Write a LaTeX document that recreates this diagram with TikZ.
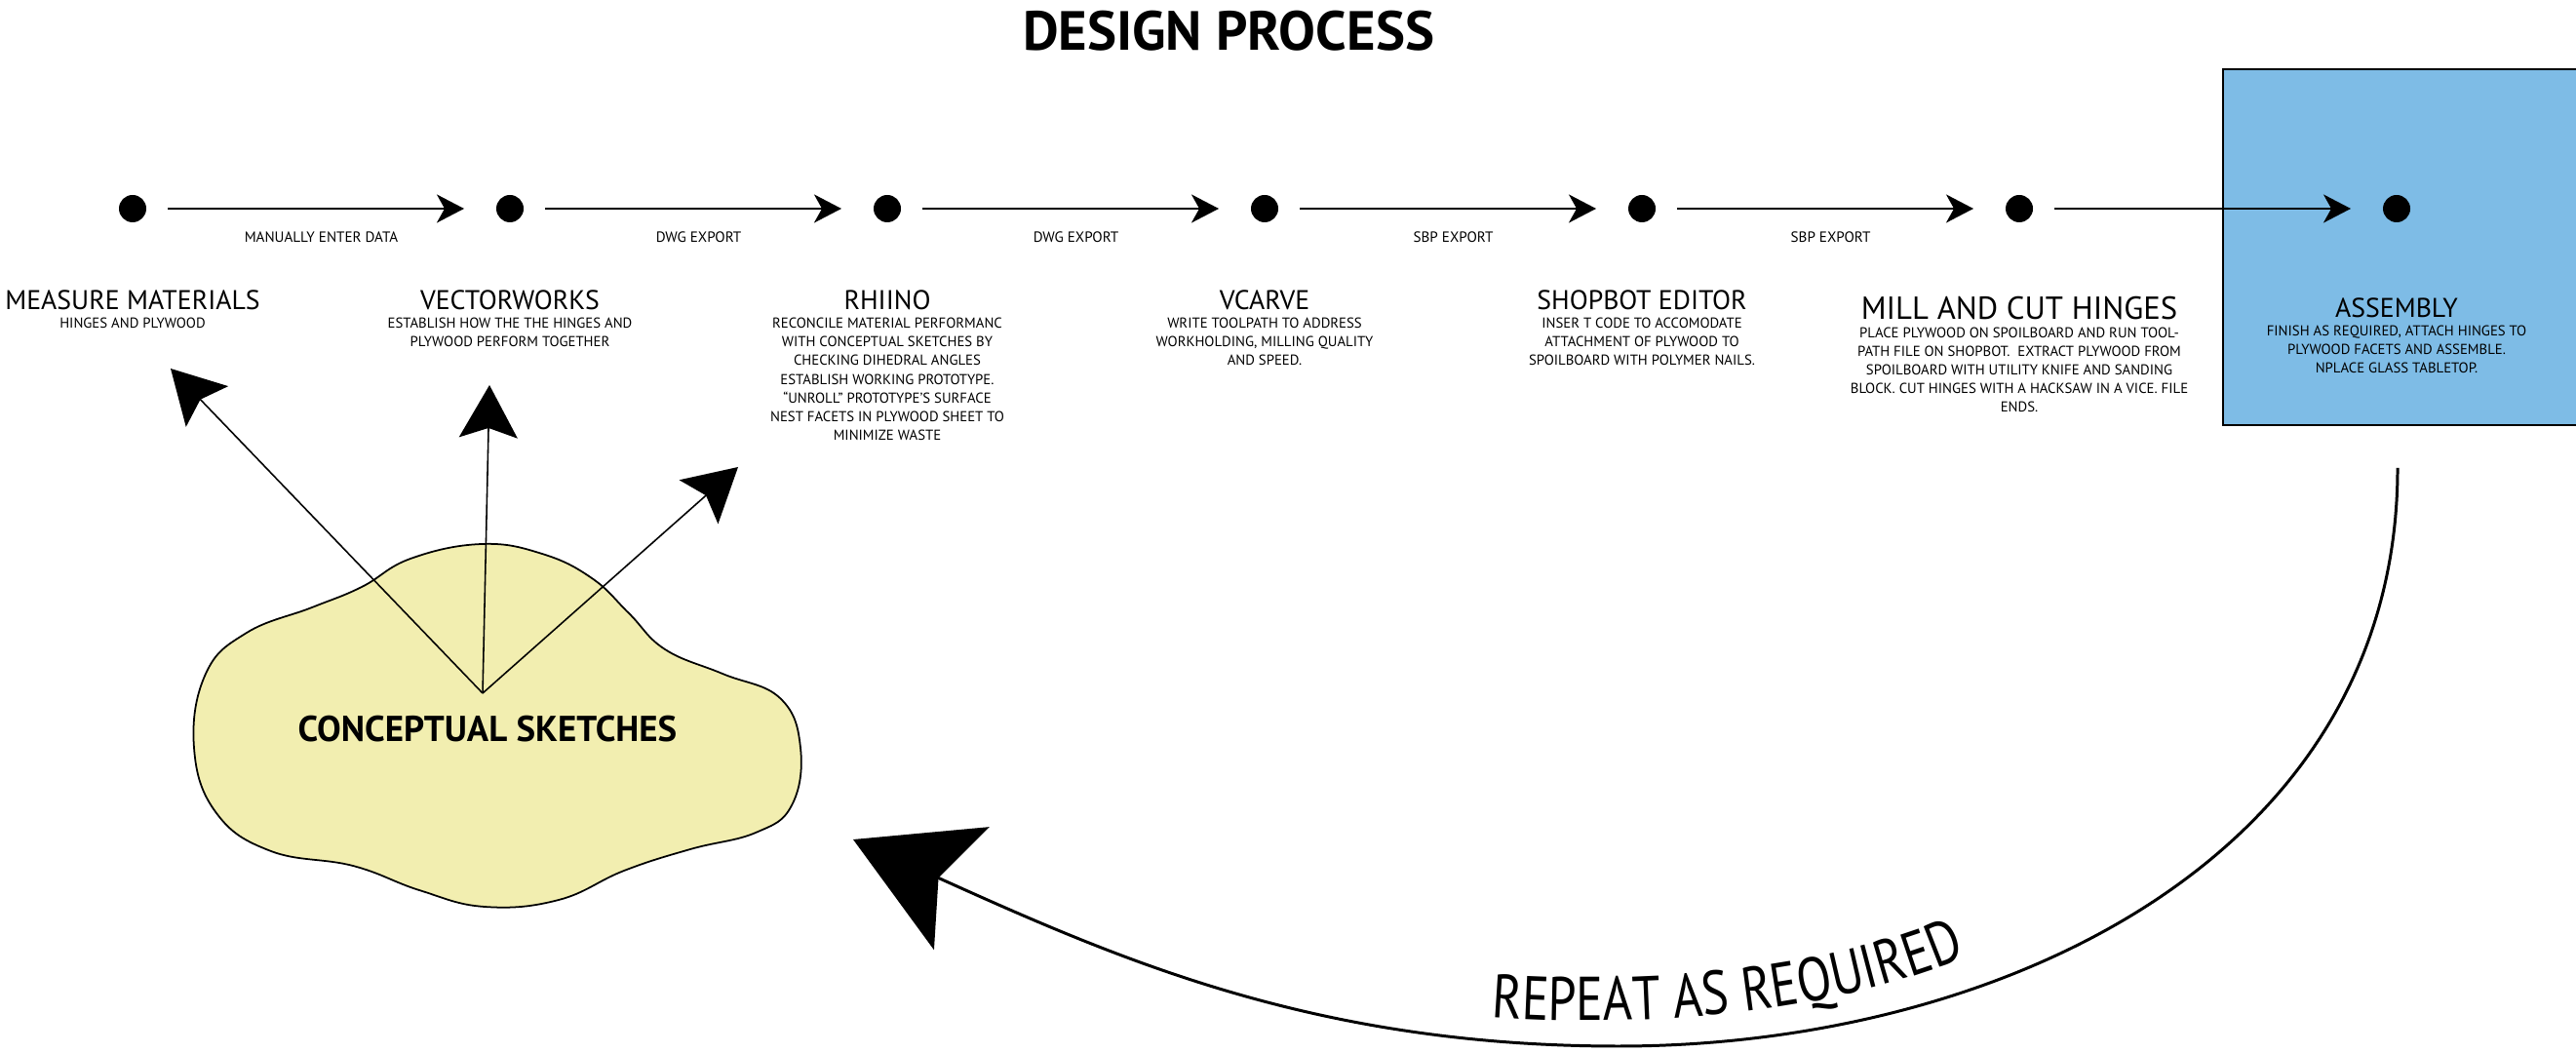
\documentclass[tikz,border=0pt]{standalone}
\usepackage{fontspec}
\setmainfont{PT Sans}
\newfontfamily\repeatfont{PT Sans}[FakeStretch=0.82]
\usetikzlibrary{arrows.meta,positioning,decorations.text}
\definecolor{sketchyellow}{RGB}{242,238,176}
\definecolor{assemblyblue}{RGB}{126,188,230}

\begin{document}
\begin{tikzpicture}[
	> = {Stealth[length=2.8mm, width=2.9mm, inset=0.8mm]}, % arrow head style
	node distance = 3.59cm, % distance between dots
	line width = 0.6pt, % line style
	stepdot/.style={circle, fill=black, inner sep=0pt, outer sep=0pt, minimum size=2.8mm},
	stephead/.style={inner sep=0pt, outer sep=0pt, font=\fontsize{7.9}{9}\selectfont},
	stepdesc/.style={inner sep=0pt, outer sep=0pt, align=center, font=\fontsize{4.2}{5.46}\selectfont},
	edgelabel/.style={inner sep=0pt, font=\fontsize{4.3}{5.46}\selectfont},
	bigtip/.style={-{Stealth[length=5.4mm, width=6mm, inset=1mm]}, line width=0.45pt},
	]
	\useasboundingbox (0,0) rectangle (26.42,10.80);

	% Title and assembly box
	\node[font=\bfseries\fontsize{16.1}{19}\selectfont] (title) at (12.60,10.48) {DESIGN PROCESS};
	\node[draw, fill=assemblyblue, minimum width=3.63cm, minimum height=3.65cm, anchor=north west, inner sep=0pt] (asmbox) at (22.79,10.10) {};

	% Nodes and their relative positions
	\node[stepdot] (measure) at (1.36,8.66) {};
	\node[stepdot] (vector)   [right = of measure] {};
	\node[stepdot] (rhino)    [right = of vector] {};
	\node[stepdot] (vcarve)   [right = of rhino] {};
	\node[stepdot] (shopbot)  [right = of vcarve] {};
	\node[stepdot] (mill)     [right = of shopbot] {};
	\node[stepdot] (assembly) [right = of mill] {};

	% Headings and descriptions
	\node[stephead] (measureH)  [below = 0.70 of measure] {MEASURE MATERIALS};
	\node[stepdesc] (measureT)  [below = 0.08 of measureH] {HINGES AND PLYWOOD};
	\node[stephead] (vectorH)   [below = 0.70 of vector] {VECTORWORKS};
	\node[stepdesc] (vectorT)   [below = 0.08 of vectorH] {ESTABLISH HOW THE THE HINGES AND\\PLYWOOD PERFORM TOGETHER};
	\node[stephead] (rhinoH)    [below = 0.70 of rhino] {RHIINO};
	\node[stepdesc] (rhinoT)    [below = 0.08 of rhinoH] {RECONCILE MATERIAL PERFORMANC\\WITH CONCEPTUAL SKETCHES BY\\CHECKING DIHEDRAL ANGLES\\ESTABLISH WORKING PROTOTYPE.\\“UNROLL” PROTOTYPE’S SURFACE\\NEST FACETS IN PLYWOOD SHEET TO\\MINIMIZE WASTE};
	\node[stephead] (vcarveH)   [below = 0.70 of vcarve] {VCARVE};
	\node[stepdesc] (vcarveT)   [below = 0.08 of vcarveH] {WRITE TOOLPATH TO ADDRESS\\WORKHOLDING, MILLING QUALITY\\AND SPEED.};
	\node[stephead] (shopbotH)  [below = 0.70 of shopbot] {SHOPBOT EDITOR};
	\node[stepdesc] (shopbotT)  [below = 0.08 of shopbotH] {INSER T CODE TO ACCOMODATE\\ATTACHMENT OF PLYWOOD TO\\SPOILBOARD WITH POLYMER NAILS.};
	\node[stephead, font=\fontsize{9.3}{11}\selectfont] (millH) [below = 0.76 of mill] {MILL AND CUT HINGES};
	\node[stepdesc] (millT)     [below = 0.08 of millH] {PLACE PLYWOOD ON SPOILBOARD AND RUN TOOL-\\PATH FILE ON SHOPBOT.\ \ EXTRACT PLYWOOD FROM\\SPOILBOARD WITH UTILITY KNIFE AND SANDING\\BLOCK. CUT HINGES WITH A HACKSAW IN A VICE. FILE\\ENDS.};
	\node[stephead] (assemblyH) [below = 0.78 of assembly] {ASSEMBLY};
	\node[stepdesc] (assemblyT) [below = 0.08 of assemblyH] {FINISH AS REQUIRED, ATTACH HINGES TO\\PLYWOOD FACETS AND ASSEMBLE.\\NPLACE GLASS TABLETOP.};

	% Paths connecting nodes
	\path[->, shorten <=2.2mm, shorten >=3.3mm] (measure) edge node[edgelabel, below=2.3mm] {MANUALLY ENTER DATA} (vector);
	\path[->, shorten <=2.2mm, shorten >=3.3mm] (vector) edge node[edgelabel, below=2.3mm] {DWG EXPORT} (rhino);
	\path[->, shorten <=2.2mm, shorten >=3.3mm] (rhino) edge node[edgelabel, below=2.3mm] {DWG EXPORT} (vcarve);
	\path[->, shorten <=2.2mm, shorten >=3.3mm] (vcarve) edge node[edgelabel, below=2.3mm] {SBP EXPORT} (shopbot);
	\path[->, shorten <=2.2mm, shorten >=3.3mm] (shopbot) edge node[edgelabel, below=2.3mm] {SBP EXPORT} (mill);
	\path[->, shorten <=2.2mm, shorten >=3.3mm] (mill) edge (assembly);

	% Conceptual sketches cloud
	\draw[fill=sketchyellow, line width=0.5pt] plot[smooth cycle, tension=0.7] coordinates {
		(4.94,5.22) (5.56,5.12) (6.07,4.87) (6.45,4.51) (6.82,4.14) (7.41,3.89)
		(8.00,3.64) (8.21,3.13) (8.12,2.54) (7.75,2.26) (7.08,2.09) (6.40,1.87)
		(5.73,1.57) (4.97,1.50) (4.30,1.67) (3.62,1.92) (2.78,2.07) (2.22,2.46)
		(1.99,3.13) (2.11,3.89) (2.53,4.31) (3.20,4.57) (3.71,4.78) (4.21,5.07)};
	\node[font=\bfseries\fontsize{10.5}{12}\selectfont] (sketches) at (5.00,3.32) {CONCEPTUAL SKETCHES};

	\coordinate (src) at (4.95,3.69);
	\coordinate (toMeasure) at (1.75,7.02);
	\coordinate (toVector) at (5.02,6.85);
	\coordinate (toRhino) at (7.57,6.01);
	\path[bigtip] (src) edge (toMeasure) edge (toVector) edge (toRhino);

	% Repeat loop
	\coordinate (loopStart) at (24.59,6.00);
	\coordinate (loopBottom) at (16.60,0.07);
	\coordinate (loopEnd) at (8.75,2.19);
	\draw[line width=0.85pt, -{Stealth[length=12.2mm, width=13.8mm, inset=2.6mm]}]
		(loopStart) .. controls (24.59,2.00) and (20.50,0.07) .. (loopBottom)
		.. controls (13.50,0.07) and (11.50,0.95) .. (loopEnd);
	\path[decorate, decoration={text along path, text align=center,
		text={|\repeatfont\fontsize{18}{21}\selectfont|REPEAT AS REQUIRED}}]
		(15.15,0.38) .. controls (17.00,0.22) and (19.00,0.45) .. (20.30,1.05);

\end{tikzpicture}
\end{document}
